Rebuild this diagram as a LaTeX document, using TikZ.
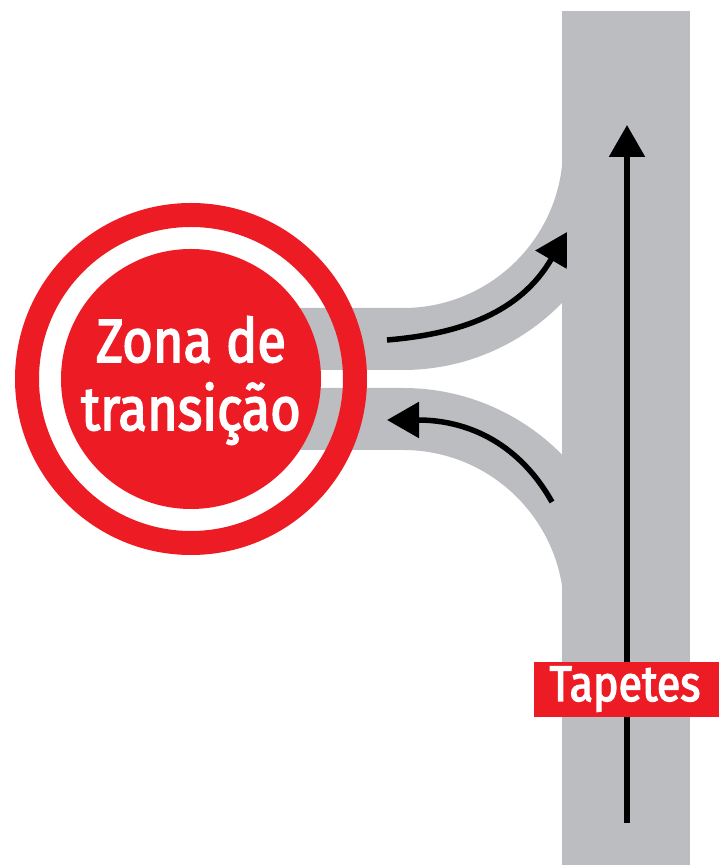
\documentclass[tikz,border=0pt]{standalone}
\usepackage{fontspec}
\setmainfont{Fira Sans}
\newfontfamily\lblfont[FakeStretch=0.86,FakeBold=2.6]{Fira Sans}
\usetikzlibrary{arrows.meta}
\definecolor{beltgrey}{RGB}{188,189,193}
\definecolor{zred}{RGB}{237,28,36}
\begin{document}
\begin{tikzpicture}[x=1pt,y=1pt,
  band/.style={draw=beltgrey,line width=62pt},
  flow/.style={line width=5.5pt,-{Triangle[length=32pt,width=35pt]}},
  white text/.style={text=white,inner sep=0pt,anchor=base}]
\useasboundingbox (0,0) rectangle (722,865);
% conveyor belt
\fill[beltgrey] (562,0) rectangle (690,854);
% branches
\draw[band] (290,526) -- (403,526) arc[start angle=270,end angle=360,radius=191] -- (594,760);
\draw[band] (290,446) -- (403,446) arc[start angle=90,end angle=0,radius=192] -- (595,200);
% transition zone
\fill[zred,even odd rule] (191,486) circle[radius=176] (191,486) circle[radius=152];
\node[circle,fill=zred,minimum size=260pt,inner sep=0pt] (zone) at (191,486) {};
\node[white text,font=\lblfont\fontsize{61}{68}\selectfont] (zt1) at (191,503) {Zona de};
\node[white text,font=\lblfont\fontsize{61}{68}\selectfont] (zt2) at (191,435) {transição};
% arrows
\coordinate (v0) at (627,42);
\coordinate (v1) at (627,740);
\draw[flow] (v0) -- (v1);
% label
\node[fill=zred,minimum width=185pt,minimum height=55pt,inner sep=0pt] (tapbox) at (626.5,175.5) {};
\node[white text,font=\lblfont\fontsize{50}{56}\selectfont] (tap) at (625,164) {Tapetes};
\coordinate (u0) at (387,525);
\coordinate (u1) at (567,633);
\draw[flow] (u0) .. controls (460,531) and (520,552) .. (u1);
\coordinate (l0) at (552,363);
\coordinate (l1) at (387,445);
\draw[flow] (l0) .. controls (520,420) and (470,445) .. (l1);
\end{tikzpicture}
\end{document}
